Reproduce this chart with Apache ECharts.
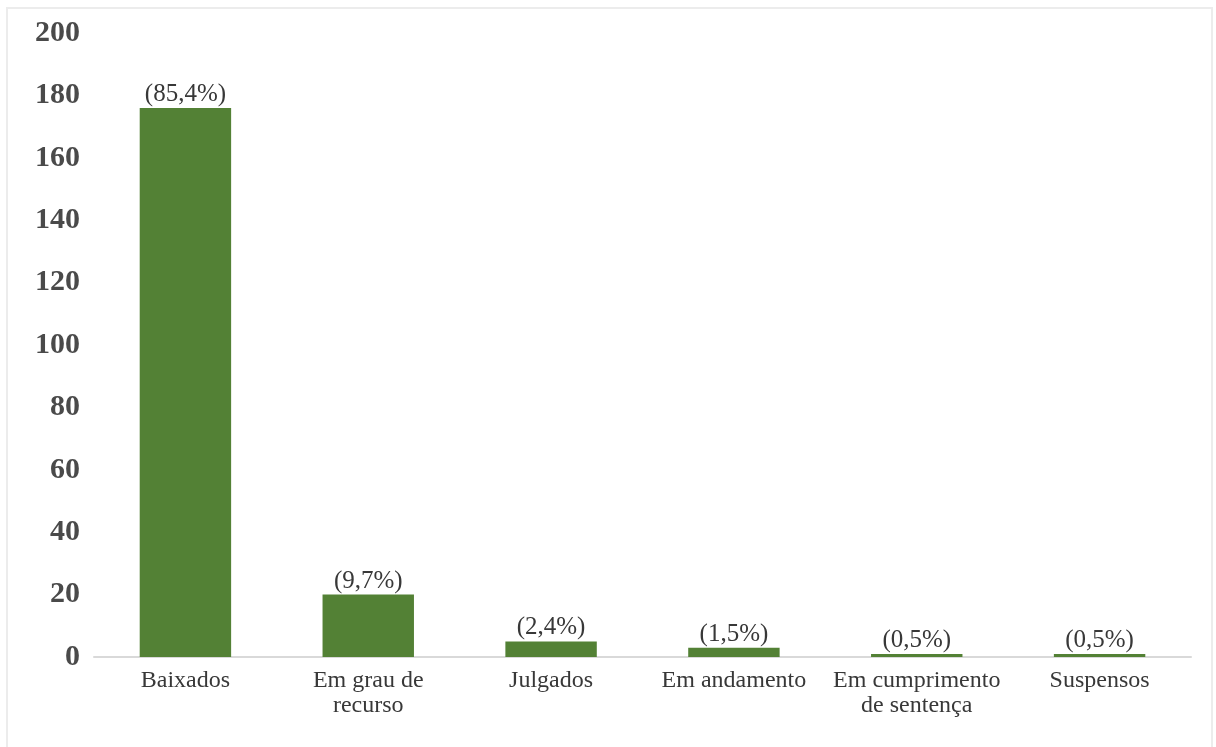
<!DOCTYPE html>
<html>
<head>
<meta charset="utf-8">
<script src="https://cdn.jsdelivr.net/npm/echarts@6/dist/echarts.min.js"></script>
<style>
html,body{margin:0;padding:0;background:#fff;}
#chart{width:1216px;height:747px;}
</style>
</head>
<body>
<div id="chart"></div>
<script>
const categories = ['Baixados', 'Em grau de\nrecurso', 'Julgados', 'Em andamento', 'Em cumprimento\nde sentença', 'Suspensos'];
const values = [176, 20, 5, 3, 1, 1];
const percentLabels = ['(85,4%)', '(9,7%)', '(2,4%)', '(1,5%)', '(0,5%)', '(0,5%)'];
const yTicks = [0, 20, 40, 60, 80, 100, 120, 140, 160, 180, 200];

const font = '"Liberation Serif", "Times New Roman", serif';
const textColor = '#383838';

const chart = echarts.init(document.getElementById('chart'), null, {renderer: 'canvas'});
chart.setOption({
  backgroundColor: '#ffffff',
  animation: false,
  graphic: [{
    type: 'rect',
    shape: {x: 7, y: 8, width: 1205, height: 760},
    style: {fill: 'none', stroke: '#ececec', lineWidth: 2},
    silent: true
  }],
  grid: {left: 94, right: 25, top: 33, bottom: 90, containLabel: false},
  xAxis: {
    type: 'category',
    data: categories,
    axisLine: {show: true, lineStyle: {color: '#d9d9d9', width: 2}},
    axisTick: {show: false},
    axisLabel: {
      interval: 0,
      margin: 11,
      fontFamily: font,
      fontSize: 24,
      lineHeight: 25,
      color: textColor
    }
  },
  yAxis: {
    type: 'value',
    min: yTicks[0],
    max: yTicks[yTicks.length - 1],
    interval: yTicks[1] - yTicks[0],
    axisLine: {show: false},
    axisTick: {show: false},
    splitLine: {show: false},
    axisLabel: {
      margin: 14,
      fontFamily: font,
      fontSize: 30,
      fontWeight: 'bold',
      color: '#4a4a4a'
    }
  },
  series: [{
    type: 'bar',
    data: values,
    barWidth: '50%',
    itemStyle: {color: '#538135'},
    label: {
      show: true,
      position: 'top',
      distance: 1,
      fontFamily: font,
      fontSize: 25,
      color: textColor,
      formatter: function (p) { return percentLabels[p.dataIndex]; }
    }
  }]
});
</script>
</body>
</html>
